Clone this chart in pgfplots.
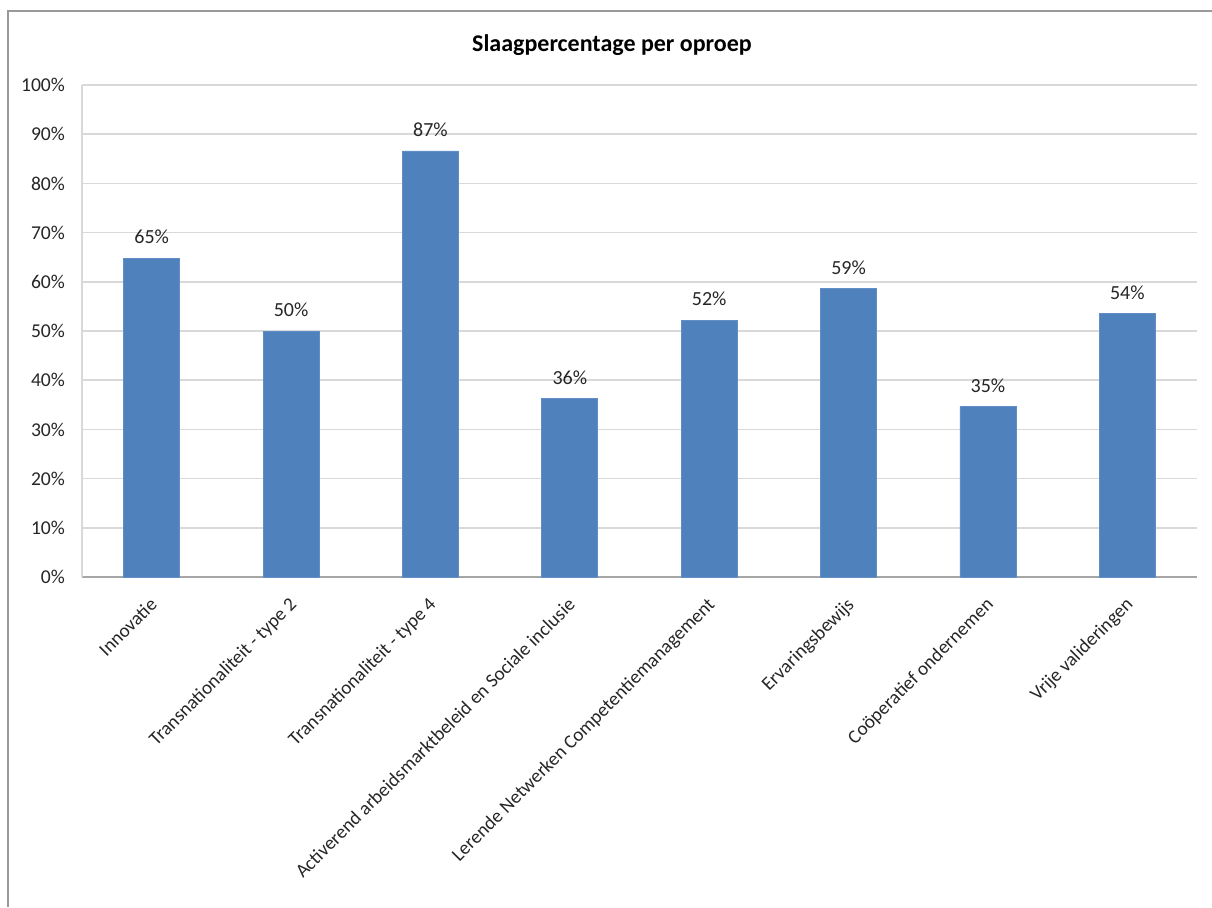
\documentclass[border=0pt]{standalone}
\usepackage{pgfplots}
\pgfplotsset{compat=1.18}
\usepackage{fontspec}
\setmainfont{Carlito}
\definecolor{barblue}{HTML}{4F81BD}
\definecolor{gridgray}{HTML}{D9D9D9}
\definecolor{axgray}{HTML}{A6A6A6}
\definecolor{txt}{HTML}{262626}
\begin{document}
\begin{tikzpicture}
\path[use as bounding box] (0,0) rectangle (606pt,453.5pt);
\draw[color=gray!80, line width=0.9pt] (4pt,0) -- (4pt,448pt) -- (606pt,448pt);
\node[font=\fontsize{12}{14}\selectfont\bfseries, text=black] at (306pt,431pt) {Slaagpercentage per oproep};
\begin{axis}[
  at={(41pt,165pt)}, anchor=south west,
  scale only axis, width=557.5pt, height=246pt,
  xmin=-0.5, xmax=7.5, ymin=0, ymax=100,
  ybar, bar width=28pt,
  axis x line=bottom, axis y line=left,
  x axis line style={-, color=axgray, line width=0.8pt},
  y axis line style={-, color=gridgray, line width=0.8pt},
  major tick length=0pt,
  ymajorgrids, grid style={color=gridgray, line width=0.8pt},
  ytick={0,10,...,100},
  yticklabel={\pgfmathprintnumber{\tick}\%},
  /pgf/number format/assume math mode=true,
  yticklabel style={font=\fontsize{9.8}{11}\selectfont, text=txt, xshift=-5pt},
  xtick=data,
  xticklabels={Innovatie, Transnationaliteit - type 2, Transnationaliteit - type 4, Activerend arbeidsmarktbeleid en Sociale inclusie, Lerende Netwerken Competentiemanagement, Ervaringsbewijs, Coöperatief ondernemen, Vrije valideringen},
  xticklabel style={font=\fontsize{9.6}{11}\selectfont, text=txt, xshift=-1.5pt, yshift=-8pt, rotate=45, anchor=north east, inner sep=1pt},
  nodes near coords={\pgfmathprintnumber[fixed,precision=0]{\pgfplotspointmeta}\%},
  nodes near coords style={font=\fontsize{10}{12}\selectfont, text=txt, yshift=3.5pt},
]
\addplot[fill=barblue, draw=barblue!90!white] coordinates {
(0,64.8) (1,50.0) (2,86.6) (3,36.2) (4,52.2) (5,58.6) (6,34.6) (7,53.6)};
\end{axis}
\end{tikzpicture}
\end{document}
